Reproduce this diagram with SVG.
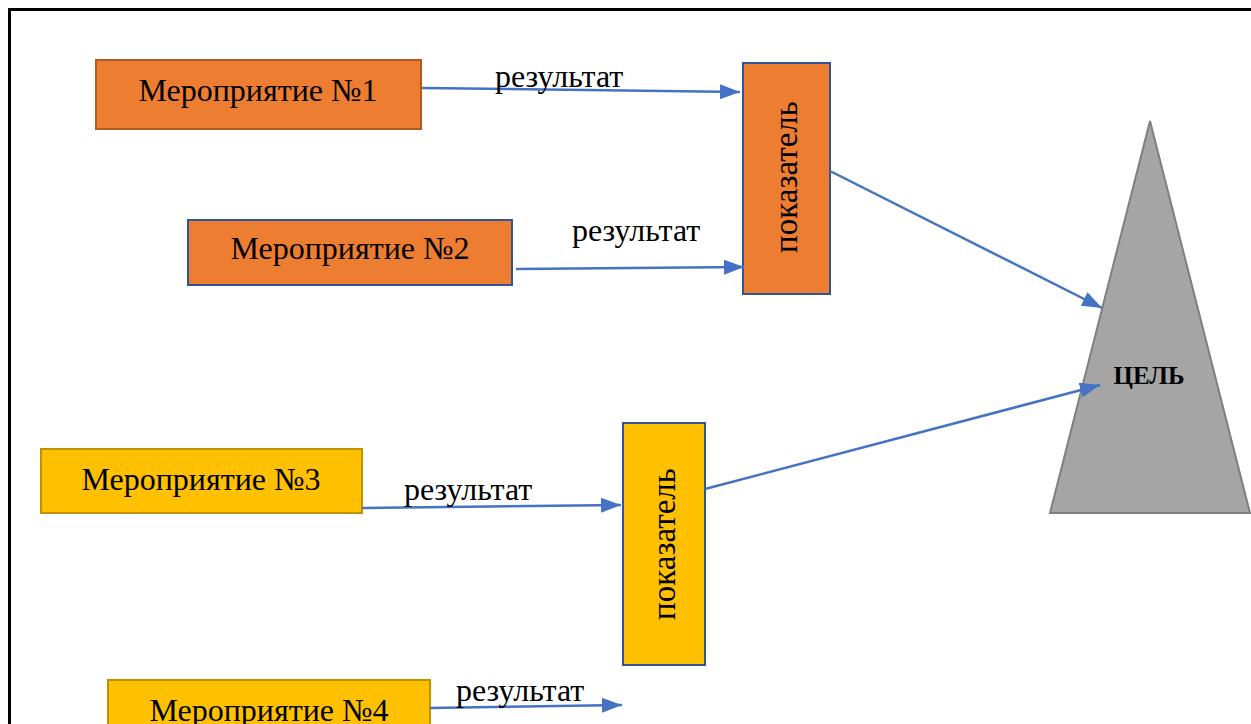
<svg xmlns="http://www.w3.org/2000/svg" width="1251" height="724" viewBox="0 0 1251 724">
<defs>
<marker id="arr" markerWidth="8" markerHeight="6" refX="8" refY="3" orient="auto" markerUnits="strokeWidth">
<path d="M0,0 L8,3 L0,6 Z" fill="#4472C4"/>
</marker>
<style>
.t{font-family:"Liberation Serif","Times New Roman",serif;font-size:32px;fill:#000;}
.lbl{font-family:"Liberation Serif","Times New Roman",serif;font-size:32px;fill:#000;}
.orange{fill:#ED7D31;}
.yellow{fill:#FFC000;}
.c{stroke:#4472C4;stroke-width:2.5;fill:none;marker-end:url(#arr);}
</style>
</defs>
<rect width="1251" height="724" fill="#fff"/>
<rect x="9.5" y="9.5" width="1300" height="800" fill="none" stroke="#000" stroke-width="3"/>

<g id="m1">
<rect x="96" y="60" width="325" height="69" class="orange" stroke="#AE5A21" stroke-width="2"/>
<text class="t" x="258" y="101" text-anchor="middle">Мероприятие №1</text>
</g>
<g id="m2">
<rect x="188" y="220" width="324" height="65" class="orange" stroke="#2F5597" stroke-width="2"/>
<text class="t" x="350" y="259" text-anchor="middle">Мероприятие №2</text>
</g>
<g id="m3">
<rect x="41" y="449" width="321" height="64" class="yellow" stroke="#BF9000" stroke-width="2"/>
<text class="t" x="201" y="490" text-anchor="middle">Мероприятие №3</text>
</g>
<g id="m4">
<rect x="108" y="680" width="322" height="60" class="yellow" stroke="#BF9000" stroke-width="2"/>
<text class="t" x="269" y="721" text-anchor="middle">Мероприятие №4</text>
</g>
<g id="p1">
<rect x="743" y="63" width="87" height="231" class="orange" stroke="#2F5597" stroke-width="2"/>
<text class="t" transform="translate(797,177) rotate(-90)" text-anchor="middle" style="font-size:33px">показатель</text>
</g>
<g id="p2">
<rect x="623" y="423" width="82" height="242" class="yellow" stroke="#2F5597" stroke-width="2"/>
<text class="t" transform="translate(675,544) rotate(-90)" text-anchor="middle" style="font-size:33px">показатель</text>
</g>
<g id="goal">
<polygon points="1150,121 1250,513 1050,513" fill="#A5A5A5" stroke="#7F7F7F" stroke-width="2"/>
<text x="1149" y="384" text-anchor="middle" style="font-family:'Liberation Serif','Times New Roman',serif;font-size:25px;font-weight:bold;">ЦЕЛЬ</text>
</g>
<g id="connectors">
<line class="c" x1="422" y1="88" x2="740" y2="92"/>
<line class="c" x1="516" y1="269" x2="744" y2="267"/>
<line class="c" x1="362" y1="508" x2="621" y2="505"/>
<line class="c" x1="430" y1="708" x2="622" y2="705"/>
<line class="c" x1="830" y1="171" x2="1102" y2="308"/>
<line class="c" x1="705" y1="489" x2="1100" y2="385"/>
<text class="lbl" x="495" y="87">результат</text>
<text class="lbl" x="572" y="241">результат</text>
<text class="lbl" x="404" y="500">результат</text>
<text class="lbl" x="456" y="701">результат</text>
</g>
</svg>
